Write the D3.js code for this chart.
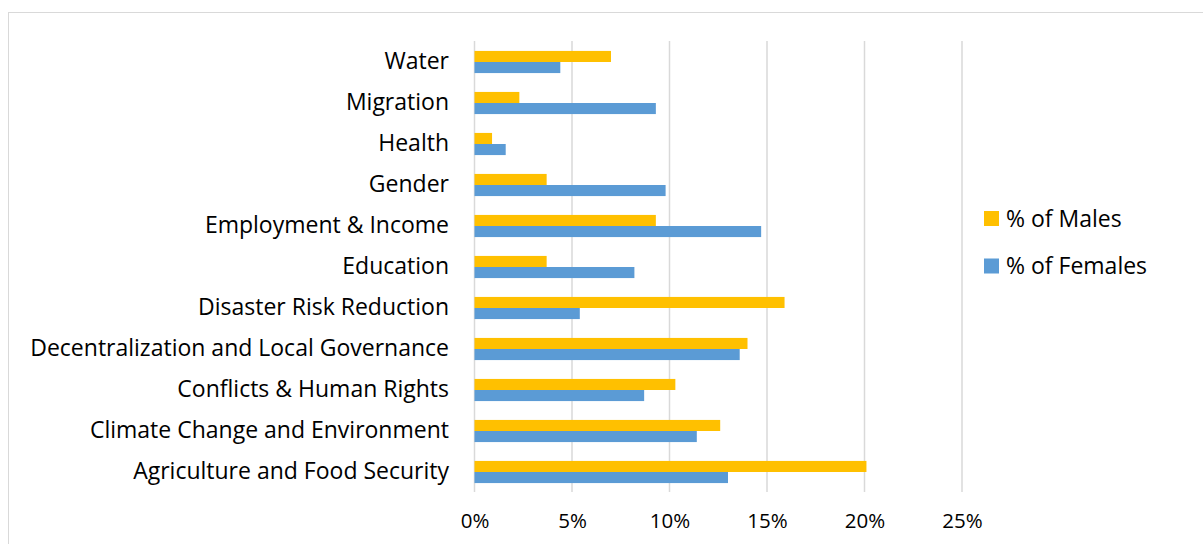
<!DOCTYPE html>
<html>
<head>
<meta charset="utf-8">
<script src="https://cdn.jsdelivr.net/npm/d3@7"></script>
<style>
  body { margin: 0; background: #fff; }
  text { font-family: "Open Sans", sans-serif; fill: #000; }
</style>
</head>
<body>
<svg class="chart" width="1203" height="544"></svg>
<script>
const categories = ['Water', 'Migration', 'Health', 'Gender', 'Employment & Income', 'Education',
    'Disaster Risk Reduction', 'Decentralization and Local Governance', 'Conflicts & Human Rights',
    'Climate Change and Environment', 'Agriculture and Food Security'];
const males   = [7.0, 2.3, 0.9, 3.7, 9.3, 3.7, 15.9, 14.0, 10.3, 12.6, 20.1];
const females = [4.4, 9.3, 1.6, 9.8, 14.7, 8.2, 5.4, 13.6, 8.7, 11.4, 13.0];
const seriesNames = ['% of Males', '% of Females'];
const seriesColors = ['#FFC000', '#5B9BD5'];
const xTicks = [0, 5, 10, 15, 20, 25];

const svg = d3.select('.chart');

// chart area border
svg.append('rect')
    .attr('x', 8.5).attr('y', 12.5)
    .attr('width', 1200).attr('height', 540)
    .attr('fill', 'none')
    .attr('stroke', '#d9d9d9');

const x = d3.scaleLinear().domain([0, 25]).range([474.5, 962]);
const y = d3.scaleBand().domain(categories).range([41.5, 492.5]).paddingInner(0.46).paddingOuter(0.23);
const ySub = d3.scaleBand().domain([0, 1]).range([0, y.bandwidth()]);

// gridlines
svg.append('g')
    .selectAll('line').data(xTicks)
    .enter().append('line')
    .attr('x1', d => x(d)).attr('x2', d => x(d))
    .attr('y1', 41).attr('y2', 492)
    .attr('stroke', '#d9d9d9')
    .attr('stroke-width', 1.5);

// x axis labels
const xAxis = d3.axisBottom(x).tickValues(xTicks).tickSize(0).tickPadding(0).tickFormat(d => d + '%');
svg.append('g')
    .attr('transform', 'translate(0,513)')
    .call(xAxis)
    .call(g => g.select('.domain').remove())
    .selectAll('text')
    .style('font-family', '"Open Sans", sans-serif')
    .style('font-size', '20.5px')
    .attr('fill', '#000');

// y axis labels
const yAxis = d3.axisLeft(y).tickSize(0).tickPadding(0);
svg.append('g')
    .attr('transform', 'translate(449,0)')
    .call(yAxis)
    .call(g => g.select('.domain').remove())
    .selectAll('text')
    .style('font-family', '"Open Sans", sans-serif')
    .style('font-size', '23px')
    .attr('fill', '#000');

// bars
const series = [males, females];
series.forEach((vals, si) => {
    svg.append('g')
        .selectAll('rect').data(vals)
        .enter().append('rect')
        .attr('x', x(0))
        .attr('y', (d, i) => y(categories[i]) + ySub(si))
        .attr('width', d => x(d) - x(0))
        .attr('height', ySub.bandwidth())
        .attr('fill', seriesColors[si]);
});

// legend
const legend = svg.append('g').selectAll('g').data(seriesNames)
    .enter().append('g')
    .attr('transform', (d, i) => `translate(984,${211 + i * 47.5})`);
legend.append('rect')
    .attr('width', 15).attr('height', 15)
    .attr('fill', (d, i) => seriesColors[i]);
legend.append('text')
    .attr('x', 22).attr('y', 7.5)
    .attr('dy', '0.35em')
    .style('font-size', '23px')
    .text(d => d);
</script>
</body>
</html>
